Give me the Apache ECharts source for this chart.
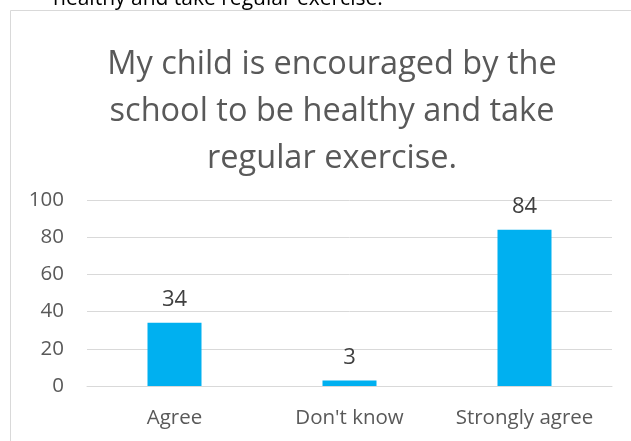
<!DOCTYPE html>
<html>
<head>
<meta charset="utf-8">
<script src="https://cdn.jsdelivr.net/npm/echarts@6/dist/echarts.min.js"></script>
<style>html,body{margin:0;padding:0;background:#fff}#c{width:631px;height:441px}</style>
</head>
<body>
<div id="c"></div>
<script>
const categories = ['Agree', "Don't know", 'Strongly agree'];
const values = [34, 3, 84];
const yTicks = [0, 20, 40, 60, 80, 100];
const titleText = 'My child is encouraged by the\nschool to be healthy and take\nregular exercise.';
const cutText = 'healthy and take regular exercise.';

const chart = echarts.init(document.getElementById('c'), null, {renderer: 'canvas'});
const FONT = '"Open Sans", sans-serif';
chart.setOption({
  animation: false,
  backgroundColor: '#fff',
  title: {
    text: titleText,
    left: 327, top: 36, textAlign: 'center',
    textStyle: {fontFamily: FONT, fontSize: 32.5, fontWeight: 'normal', color: '#595959', lineHeight: 47}
  },
  graphic: [
    {type: 'text', style: {x: 53, y: 10, text: cutText, textVerticalAlign: 'bottom', fill: '#000', font: '21px "Open Sans", sans-serif'}, silent: true},
    {type: 'rect', shape: {x: 10.5, y: 10.5, width: 700, height: 500}, style: {fill: null, stroke: '#d9d9d9', lineWidth: 1}, silent: true}
  ],
  grid: {left: 87, right: 19, top: 200, bottom: 55, containLabel: false},
  xAxis: {
    type: 'category', data: categories,
    axisLine: {show: true, lineStyle: {color: '#d9d9d9', width: 1}},
    axisTick: {show: false},
    axisLabel: {interval: 0, hideOverlap: false, fontFamily: FONT, fontSize: 20.5, color: '#595959', margin: 22}
  },
  yAxis: {
    type: 'value', min: yTicks[0], max: yTicks[yTicks.length - 1], interval: yTicks[1] - yTicks[0],
    axisLine: {show: false}, axisTick: {show: false},
    splitLine: {lineStyle: {color: '#d9d9d9', width: 1}},
    axisLabel: {fontFamily: FONT, fontSize: 20.5, color: '#595959', margin: 23}
  },
  series: [{
    type: 'bar', data: values, barWidth: 54,
    itemStyle: {color: '#00b0f0'},
    label: {show: true, position: 'top', distance: 12, fontFamily: FONT, fontSize: 22, color: '#404040'}
  }]
});
</script>
</body>
</html>
